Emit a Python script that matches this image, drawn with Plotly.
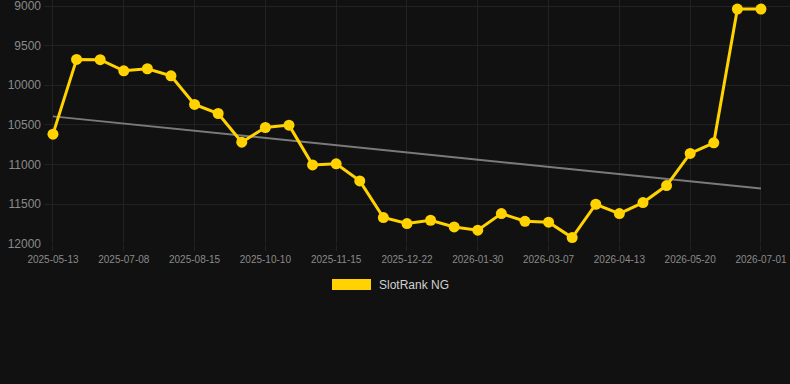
import numpy as np
import plotly.graph_objects as go

dates = [
    "2025-05-13", "2025-05-31", "2025-06-19", "2025-07-08", "2025-07-21", "2025-08-02",
    "2025-08-15", "2025-09-03", "2025-09-22", "2025-10-10", "2025-10-22", "2025-11-03",
    "2025-11-15", "2025-11-27", "2025-12-10", "2025-12-22", "2026-01-04", "2026-01-17",
    "2026-01-30", "2026-02-11", "2026-02-23", "2026-03-07", "2026-03-19", "2026-04-01",
    "2026-04-13", "2026-04-25", "2026-05-08", "2026-05-20", "2026-06-03", "2026-06-17",
    "2026-07-01",
]
rank = [
    10618, 9674, 9678, 9818, 9792, 9881,
    10243, 10357, 10719, 10534, 10504, 11006,
    10993, 11208, 11671, 11747, 11705, 11790,
    11831, 11621, 11718, 11730, 11924, 11503,
    11621, 11482, 11267, 10862, 10728, 9038,
    9038,
]
tick_dates = dates[::3]
y_ticks = [9000, 9500, 10000, 10500, 11000, 11500, 12000]
y_tick_text = [str(v) for v in y_ticks]
series_name = "SlotRank NG"

idx = np.arange(len(rank))
coef = np.polyfit(idx, rank, 1)
trend = np.polyval(coef, idx)

BG = "#111111"
GOLD = "#FFD200"

fig = go.Figure()
fig.add_trace(go.Scatter(
    x=dates, y=trend, mode="lines",
    line=dict(color="#7a7a7a", width=2),
    hoverinfo="skip", showlegend=False,
))
fig.add_trace(go.Scatter(
    x=dates, y=rank, mode="lines+markers", name=series_name,
    line=dict(color=GOLD, width=3),
    marker=dict(color=GOLD, size=11),
    cliponaxis=False, showlegend=False,
))

# legend swatch + label
fig.add_shape(type="rect", xref="paper", yref="paper",
              x0=(332 - 44) / 746, x1=(371 - 44) / 746,
              y0=(244 - 290) / 244, y1=(244 - 279) / 244,
              fillcolor=GOLD, line=dict(width=0))
fig.add_annotation(text=series_name, xref="paper", yref="paper",
                   x=(377 - 44) / 746, y=(244 - 284.5) / 244,
                   xanchor="left", yanchor="middle", showarrow=False,
                   font=dict(family="Liberation Sans, Arial, sans-serif", size=12, color="#d0d0d0"))

fig.update_layout(
    width=790, height=384,
    margin=dict(l=44, r=0, t=0, b=140),
    paper_bgcolor=BG, plot_bgcolor=BG,
    showlegend=False,
    font=dict(family="Liberation Sans, Arial, sans-serif"),
    xaxis=dict(
        type="category", range=[-0.38, 31.23],
        tickmode="array", tickvals=tick_dates, ticktext=tick_dates,
        tickfont=dict(size=10, color="#8a8a8a"),
        showgrid=True, gridcolor="#222222", gridwidth=1,
        zeroline=False, showline=False,
        ticks="outside", ticklen=6, tickcolor="#222222",
    ),
    yaxis=dict(
        range=[12005, 8924],
        tickmode="array", tickvals=y_ticks, ticktext=y_tick_text,
        tickfont=dict(size=12, color="#8a8a8a"),
        showgrid=True, gridcolor="#222222", gridwidth=1,
        zeroline=False, showline=False, ticklabelstandoff=2,
        ticklabeloverflow="allow",
    ),
)

fig.write_html("out.html")
